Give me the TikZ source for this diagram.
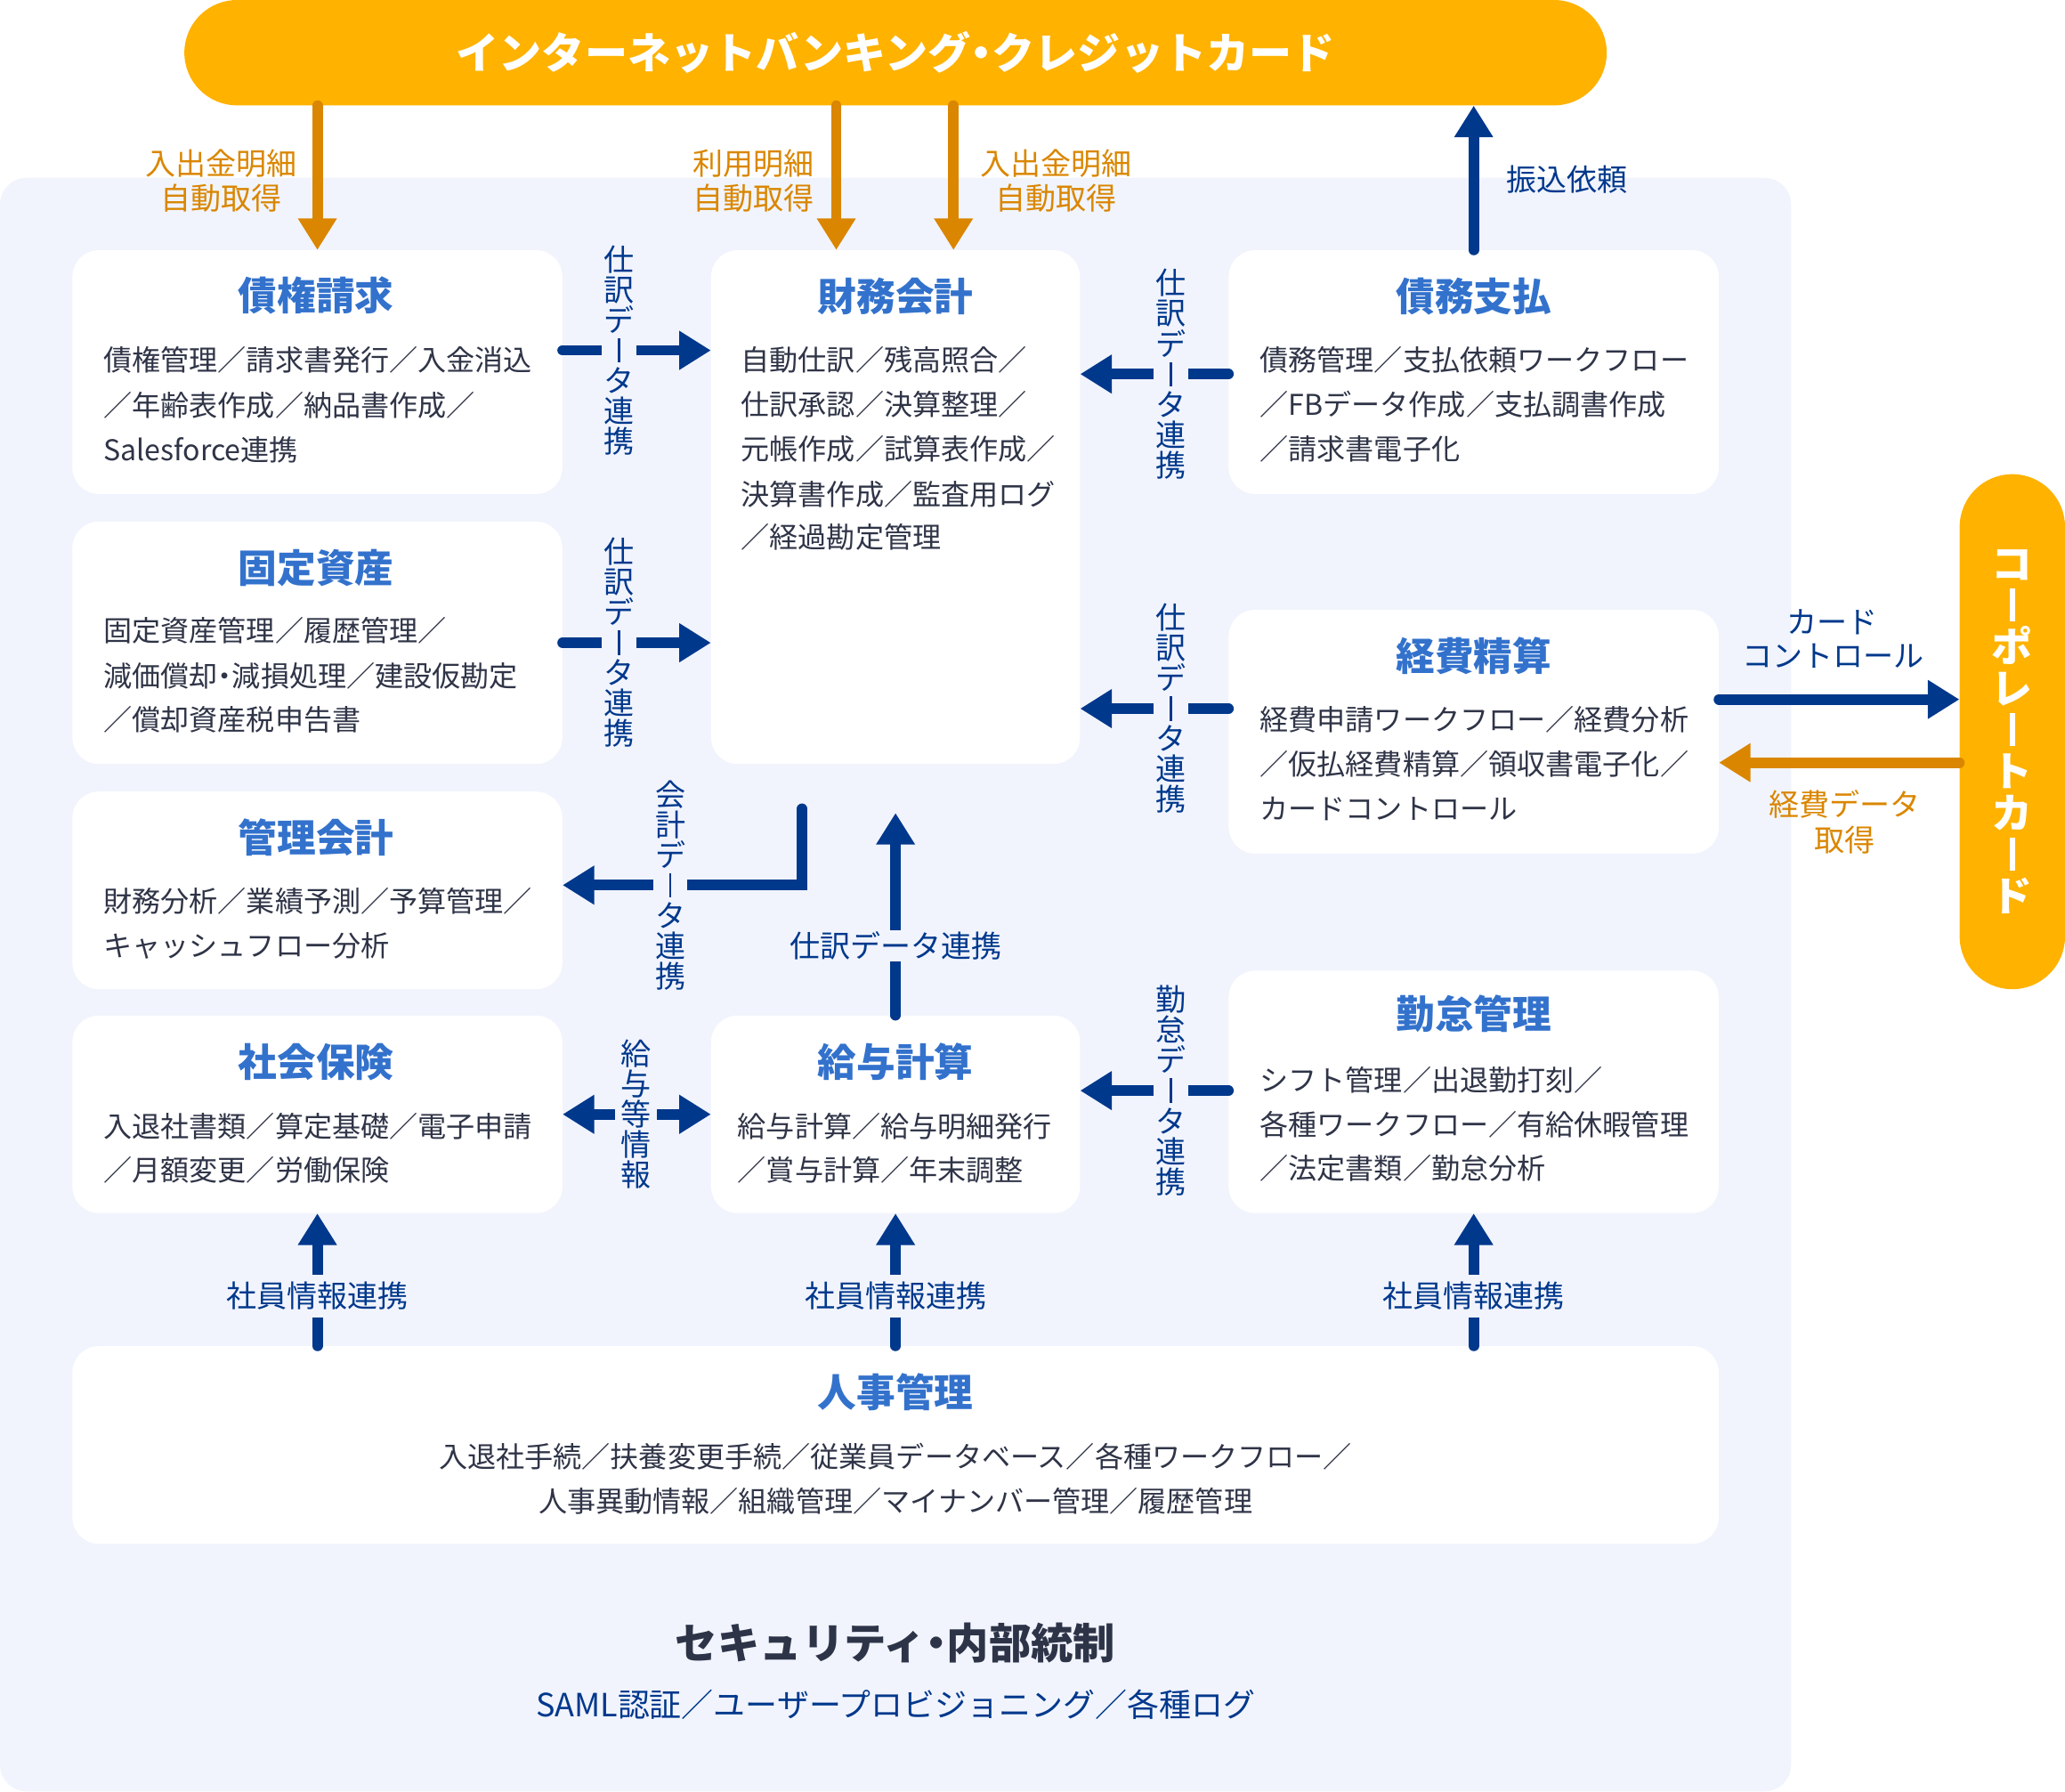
\documentclass[tikz,border=0pt]{standalone}
\usepackage{fontspec}
\setmainfont{Noto Sans CJK JP}
\usetikzlibrary{arrows.meta,calc}
\definecolor{panelbg}{RGB}{241,244,253}
\definecolor{navy}{RGB}{0,56,140}
\definecolor{titleblue}{RGB}{51,114,204}
\definecolor{bodygray}{RGB}{47,52,71}
\definecolor{secdark}{RGB}{46,52,72}
\definecolor{barorange}{RGB}{255,178,0}
\definecolor{arroworange}{RGB}{218,134,0}
\newcommand\nkg{\kern-0.25em・\kern-0.25em}
\newcommand\fsl{^^^^ff0f}
\newcommand\vbar{\hbox to 1em{\hss\vrule width 0.07em height 0.78em depth 0.02em\hss}}
\newcommand\vbarb{\hbox to 1em{\hss\vrule width 0.13em height 0.78em depth 0.02em\hss}}
\tikzset{
  wbox/.style={fill=white, rounded corners=20pt, inner sep=0pt},
  bar/.style={fill=barorange, rounded corners=40pt, inner sep=0pt},
  navyarr/.style={draw=navy, line width=8pt, line cap=round, -{Triangle[length=24pt,width=28pt]}},
  orarr/.style={draw=arroworange, line width=8pt, line cap=round, -{Triangle[length=24pt,width=28pt]}},
  ttl/.style={text=titleblue, font=\bfseries\fontsize{29.5}{30}\selectfont, inner sep=0pt, text height=26pt, text depth=3.5pt},
  body/.style={text=bodygray, font=\fontsize{21.7}{22}\selectfont, inner sep=0pt, text height=19.1pt, text depth=2.6pt, anchor=west},
  cbody/.style={body, anchor=center},
  lbl/.style={text=navy, font=\fontsize{23}{23}\selectfont, inner sep=0pt, text height=20.2pt, text depth=2.8pt},
  olbl/.style={lbl, text=arroworange},
  vlbl/.style={text=navy, fill=panelbg, align=center, inner xsep=1.5pt, inner ysep=0pt, font=\fontsize{23}{23}\selectfont},
  hgap/.style={lbl, fill=panelbg, inner xsep=2pt, inner ysep=4.5pt},
}
\begin{document}
\lineskiplimit=-100pt\relax
\begin{tikzpicture}[x=1pt,y=-1pt]
\useasboundingbox (0,0) rectangle (1568,1360);
% background panel
\fill[panelbg, rounded corners=20pt] (0,135) rectangle (1360,1360);
% orange bars
\node[bar, minimum width=1080pt, minimum height=80pt, text=white, font=\bfseries\fontsize{32.5}{33}\selectfont, text height=28.6pt, text depth=3.9pt] (topbar) at (680,40) {インターネットバンキング\nkg クレジットカード};
\node[bar, minimum width=80pt, minimum height=391pt, text=white, align=center, font=\bfseries\fontsize{31}{31.5}\selectfont] (card) at (1528,555.5) {コ\\\vbarb\\ポ\\レ\\\vbarb\\ト\\カ\\\vbarb\\ド};
% white boxes
\node[wbox, minimum width=372pt, minimum height=185pt] (saiken) at (241,282.5) {};
\node[wbox, minimum width=372pt, minimum height=184pt] (kotei) at (241,488) {};
\node[wbox, minimum width=372pt, minimum height=150pt] (kanri) at (241,676) {};
\node[wbox, minimum width=372pt, minimum height=150pt] (shakai) at (241,846) {};
\node[wbox, minimum width=280pt, minimum height=390pt] (zaimu) at (680,385) {};
\node[wbox, minimum width=280pt, minimum height=150pt] (kyuyo) at (680,846) {};
\node[wbox, minimum width=372pt, minimum height=185pt] (saimu) at (1119,282.5) {};
\node[wbox, minimum width=372pt, minimum height=185pt] (keihi) at (1119,555.5) {};
\node[wbox, minimum width=372pt, minimum height=184pt] (kintai) at (1119,829) {};
\node[wbox, minimum width=1250pt, minimum height=150pt] (jinji) at (680,1097) {};
% coordinates
\coordinate (c1) at (470,266);
\coordinate (c2) at (470,488);
\coordinate (c3) at (889,284);
\coordinate (c4) at (889,538);
\coordinate (c5) at (889,828);
\coordinate (c6) at (680,718);
\coordinate (c7) at (509,672);
\coordinate (c8) at (483,846);
\coordinate (c9a) at (241,984);
\coordinate (c9b) at (680,984);
\coordinate (c9c) at (1119,984);
\coordinate (o2) at (635,80);
\coordinate (o3) at (724,80);
\coordinate (c12) at (1392,531);
\coordinate (c13) at (1401,579);
\coordinate (kstart) at (609,614);
% arrows
\draw[navyarr] (saiken.east |- c1) -- (zaimu.west |- c1);
\draw[navyarr] (kotei.east |- c2) -- (zaimu.west |- c2);
\draw[navyarr] (saimu.west |- c3) -- (zaimu.east |- c3);
\draw[navyarr] (keihi.west |- c4) -- (zaimu.east |- c4);
\draw[navyarr] (kintai.west |- c5) -- (kyuyo.east |- c5);
\draw[navyarr, shorten >=37pt] (kyuyo.north) -- (zaimu.south);
\draw[navyarr, line join=miter] (kstart) |- (kanri.east |- c7);
\draw[navyarr, {Triangle[length=24pt,width=28pt]}-{Triangle[length=24pt,width=28pt]}] (shakai.east) -- (kyuyo.west);
\draw[navyarr] (jinji.north -| shakai.south) -- (shakai.south);
\draw[navyarr] (jinji.north -| kyuyo.south) -- (kyuyo.south);
\draw[navyarr] (jinji.north -| kintai.south) -- (kintai.south);
\draw[navyarr] (saimu.north) -- (topbar.south -| saimu.north);
\draw[orarr] (topbar.south -| saiken.north) -- (saiken.north);
\draw[orarr] (topbar.south -| o2) -- (zaimu.north -| o2);
\draw[orarr] (topbar.south -| o3) -- (zaimu.north -| o3);
\draw[navyarr] (keihi.east |- c12) -- (card.west |- c12);
\draw[orarr] (card.west |- c13) -- (keihi.east |- c13);
% connector labels
\node[vlbl] (l1) at (c1) {仕\\訳\\デ\\\vbar\\タ\\連\\携};
\node[vlbl] (l2) at (c2) {仕\\訳\\デ\\\vbar\\タ\\連\\携};
\node[vlbl] (l3) at (c3) {仕\\訳\\デ\\\vbar\\タ\\連\\携};
\node[vlbl] (l4) at (c4) {仕\\訳\\デ\\\vbar\\タ\\連\\携};
\node[vlbl] (l5) at (c5) {勤\\怠\\デ\\\vbar\\タ\\連\\携};
\node[vlbl] (l7) at (c7) {会\\計\\デ\\\vbar\\タ\\連\\携};
\node[vlbl, inner xsep=4.5pt] (l8) at (c8) {給\\与\\等\\情\\報};
\node[hgap, inner ysep=0.5pt] (l6) at (c6) {仕訳データ連携};
\node[hgap] (l9a) at (c9a) {社員情報連携};
\node[hgap] (l9b) at (c9b) {社員情報連携};
\node[hgap] (l9c) at (c9c) {社員情報連携};
\node[lbl] (l10) at (1190,136) {振込依頼};
\node[lbl] (k1a) at (1391,472) {カード};
\node[lbl] (k1b) at (1392,498) {コントロール};
\node[olbl] (o1a) at (168,124) {入出金明細};
\node[olbl] (o1b) at (168,150.5) {自動取得};
\node[olbl] (o2a) at (572,124) {利用明細};
\node[olbl] (o2b) at (572,150.5) {自動取得};
\node[olbl] (o3a) at (802,124) {入出金明細};
\node[olbl] (o3b) at (802,150.5) {自動取得};
\node[olbl] (o4a) at (1401,611) {経費データ};
\node[olbl] (o4b) at (1401,638) {取得};
% titles
\node[ttl] (t1) at (240,224) {債権請求};
\node[ttl] (t2) at (240,431) {固定資産};
\node[ttl] (t3) at (240,636) {管理会計};
\node[ttl] (t4) at (240,806) {社会保険};
\node[ttl] (t5) at (680,225) {財務会計};
\node[ttl] (t6) at (680,806) {給与計算};
\node[ttl] (t7) at (1119,225) {債務支払};
\node[ttl] (t8) at (1119,498) {経費精算};
\node[ttl] (t9) at (1119,770) {勤怠管理};
\node[ttl] (t10) at (680,1057) {人事管理};
% bodies
\node[body] (b1a) at (78.5,273.4) {債権管理\fsl{}請求書発行\fsl{}入金消込};
\node[body] (b1b) at (78.5,307.5) {\fsl{}年齢表作成\fsl{}納品書作成\fsl{}};
\node[body] (b1c) at (78.5,341.5) {Salesforce連携};
\node[body] (b2a) at (78.5,479) {固定資産管理\fsl{}履歴管理\fsl{}};
\node[body] (b2b) at (78.5,513) {減価償却\nkg 減損処理\fsl{}建設仮勘定};
\node[body] (b2c) at (78.5,546) {\fsl{}償却資産税申告書};
\node[body] (b3a) at (78.5,684) {財務分析\fsl{}業績予測\fsl{}予算管理\fsl{}};
\node[body] (b3b) at (78.5,718) {キャッシュフロー分析};
\node[body] (b4a) at (78.5,855) {入退社書類\fsl{}算定基礎\fsl{}電子申請};
\node[body] (b4b) at (78.5,888) {\fsl{}月額変更\fsl{}労働保険};
\node[body] (b5a) at (562.5,273) {自動仕訳\fsl{}残高照合\fsl{}};
\node[body] (b5b) at (562.5,307) {仕訳承認\fsl{}決算整理\fsl{}};
\node[body] (b5c) at (562.5,341) {元帳作成\fsl{}試算表作成\fsl{}};
\node[body] (b5d) at (562.5,375) {決算書作成\fsl{}監査用ログ};
\node[body] (b5e) at (562.5,408) {\fsl{}経過勘定管理};
\node[body] (b6a) at (560,855) {給与計算\fsl{}給与明細発行};
\node[body] (b6b) at (560,888) {\fsl{}賞与計算\fsl{}年末調整};
\node[body] (b7a) at (956.5,273) {債務管理\fsl{}支払依頼ワークフロー};
\node[body] (b7b) at (956.5,307) {\fsl{}FBデータ作成\fsl{}支払調書作成};
\node[body] (b7c) at (956.5,341) {\fsl{}請求書電子化};
\node[body] (b8a) at (956.5,546) {経費申請ワークフロー\fsl{}経費分析};
\node[body] (b8b) at (956.5,580) {\fsl{}仮払経費精算\fsl{}領収書電子化\fsl{}};
\node[body] (b8c) at (956.5,614) {カードコントロール};
\node[body] (b9a) at (956.5,820) {シフト管理\fsl{}出退勤打刻\fsl{}};
\node[body] (b9b) at (956.5,854) {各種ワークフロー\fsl{}有給休暇管理};
\node[body] (b9c) at (956.5,887) {\fsl{}法定書類\fsl{}勤怠分析};
\node[cbody] (b10a) at (680,1106) {入退社手続\fsl{}扶養変更手続\fsl{}従業員データベース\fsl{}各種ワークフロー\fsl{}};
\node[cbody] (b10b) at (680,1140) {人事異動情報\fsl{}組織管理\fsl{}マイナンバー管理\fsl{}履歴管理};
% security
\node[text=secdark, font=\bfseries\fontsize{32}{32}\selectfont, inner sep=0pt, text height=28.2pt, text depth=3.8pt] (sec) at (680,1247) {セキュリティ\nkg 内部統制};
\node[text=navy, font=\fontsize{24.3}{24}\selectfont, inner sep=0pt, text height=21.4pt, text depth=2.9pt] (saml) at (680,1294) {SAML認証\fsl{}ユーザープロビジョニング\fsl{}各種ログ};
\end{tikzpicture}
\end{document}
